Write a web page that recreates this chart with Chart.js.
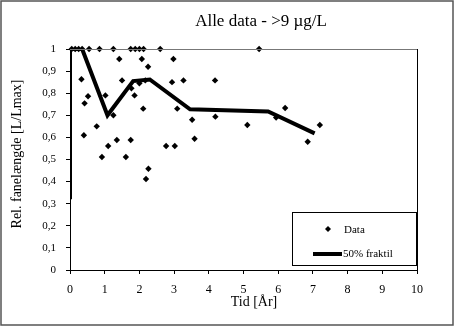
<!DOCTYPE html>
<html lang="da">
<head>
  <meta charset="UTF-8">
  <title>Alle data - >9 µg/L</title>
  <script src="https://cdn.jsdelivr.net/npm/chart.js"></script>
  <style>
    body {
      margin: 0;
      background: #fff;
    }

    .chart-box {
      width: 454px;
      height: 326px;
    }
  </style>
</head>
<body>
<div class="chart-box">
  <canvas id="chart" width="454" height="326"></canvas>
</div>

<script>
  // Målinger: tid [år] og relativ fanelængde [L/Lmax]
  const tidData = [
    0.05, 0.15, 0.25, 0.35, 0.55, 0.85, 1.25, 1.75, 1.88, 2.0, 2.12, 2.6, 5.45,
    1.42, 2.07, 2.25, 2.98, 0.33, 1.5, 1.77, 2.0, 2.17, 2.94, 3.27,
    0.52, 0.42, 1.02, 1.86, 2.11, 3.09, 3.52, 1.25, 0.77, 0.4,
    1.35, 1.75, 1.1, 2.77, 3.02, 3.59, 0.92, 1.61, 2.19, 2.26,
    4.18, 4.19, 5.11, 6.2, 5.94, 6.85, 7.2
  ];
  const relData = [
    1, 1, 1, 1, 1, 1, 1, 1, 1, 1, 1, 1, 1,
    0.955, 0.955, 0.92, 0.955, 0.863, 0.858, 0.822, 0.845, 0.858, 0.85, 0.858,
    0.786, 0.754, 0.79, 0.79, 0.73, 0.73, 0.68, 0.70, 0.65, 0.61,
    0.588, 0.588, 0.561, 0.561, 0.561, 0.594, 0.511, 0.511, 0.412, 0.458,
    0.858, 0.694, 0.656, 0.733, 0.69, 0.58, 0.656
  ];

  // 50% fraktil
  const fraktilTid = [0, 0, 0.35, 1.08, 1.82, 2.3, 3.46, 5.71, 7.05];
  const fraktilVaerdi = [0.32, 1, 1, 0.70, 0.855, 0.862, 0.727, 0.717, 0.618];

  const serif = "'Liberation Serif', 'Times New Roman', serif";

  // y-aksens etiketter med decimalkomma
  function kommaTal(v) {
    if (Math.abs(v) < 1e-9) return '0';
    if (Math.abs(v - 1) < 1e-9) return '1';
    return v.toFixed(1).replace('.', ',');
  }

  // Titler, rammer og forklaring tegnes oven på diagrammet
  const rammer = {
    id: 'rammer',
    afterDraw(chart) {
      const ctx = chart.ctx;
      const a = chart.chartArea;
      ctx.save();

      // ramme om plotområdet (top og højre)
      ctx.lineWidth = 1;
      ctx.strokeStyle = '#777';
      ctx.beginPath();
      ctx.moveTo(a.left, a.top + 0.5);
      ctx.lineTo(a.right, a.top + 0.5);
      ctx.stroke();
      ctx.strokeStyle = '#000';
      ctx.beginPath();
      ctx.moveTo(a.right + 0.5, a.top);
      ctx.lineTo(a.right + 0.5, a.bottom);
      ctx.stroke();

      ctx.fillStyle = '#000';
      ctx.textBaseline = 'middle';

      // overskrift
      ctx.font = '17px ' + serif;
      ctx.textAlign = 'center';
      ctx.fillText('Alle data - >9 µg/L', 261, 22);

      // aksetitler
      ctx.font = '14px ' + serif;
      ctx.fillText('Tid [År]', 254, 302);
      ctx.save();
      ctx.translate(17, 154);
      ctx.rotate(-Math.PI / 2);
      ctx.fillText('Rel. fanelængde [L/Lmax]', 0, 0);
      ctx.restore();

      // forklaring
      ctx.fillStyle = '#fff';
      ctx.fillRect(292, 212, 124, 53);
      ctx.strokeStyle = '#000';
      ctx.strokeRect(292.5, 212.5, 124, 53);

      ctx.fillStyle = '#000';
      ctx.beginPath();
      ctx.moveTo(328, 226);
      ctx.lineTo(331, 229);
      ctx.lineTo(328, 232);
      ctx.lineTo(325, 229);
      ctx.closePath();
      ctx.fill();

      ctx.lineWidth = 4;
      ctx.beginPath();
      ctx.moveTo(313, 254);
      ctx.lineTo(342, 254);
      ctx.stroke();

      ctx.font = '11px ' + serif;
      ctx.textAlign = 'left';
      ctx.fillText('Data', 344, 230);
      ctx.fillText('50% fraktil', 343, 254);

      // ydre ramme
      ctx.lineWidth = 1.5;
      ctx.strokeStyle = '#555';
      ctx.strokeRect(1, 1, 452, 324);

      ctx.restore();
    }
  };

  const punkter = tidData.map((t, i) => ({ x: t, y: relData[i] }));
  const fraktil = fraktilTid.map((t, i) => ({ x: t, y: fraktilVaerdi[i] }));

  new Chart(document.getElementById('chart'), {
    type: 'scatter',
    data: {
      datasets: [
        {
          label: 'Data',
          data: punkter,
          pointStyle: 'rectRot',
          pointRadius: 3.2,
          pointBorderWidth: 0,
          backgroundColor: '#000',
          borderColor: '#000',
          clip: false
        },
        {
          label: '50% fraktil',
          data: fraktil,
          showLine: true,
          borderColor: '#000',
          borderWidth: 4,
          pointRadius: 0,
          tension: 0,
          clip: 0
        }
      ]
    },
    options: {
      responsive: false,
      devicePixelRatio: 1,
      animation: false,
      layout: {
        padding: { left: 0, top: 49, right: 37, bottom: 14 }
      },
      plugins: {
        legend: { display: false },
        tooltip: { enabled: false }
      },
      scales: {
        x: {
          type: 'linear',
          min: 0,
          max: 10,
          ticks: {
            stepSize: 1,
            color: '#000',
            padding: 9,
            font: { family: serif, size: 12 }
          },
          grid: {
            drawOnChartArea: false,
            drawTicks: true,
            tickLength: 4,
            color: '#000'
          },
          border: { color: '#000', width: 1 },
          afterFit(scale) { scale.height = 42; }
        },
        y: {
          min: 0,
          max: 1,
          ticks: {
            stepSize: 0.1,
            color: '#000',
            padding: 10,
            font: { family: serif, size: 11 },
            callback: kommaTal
          },
          grid: {
            drawOnChartArea: false,
            drawTicks: true,
            tickLength: 4,
            color: '#000'
          },
          border: { color: '#000', width: 1 },
          afterFit(scale) { scale.width = 70; }
        }
      }
    },
    plugins: [rammer]
  });
</script>
</body>
</html>
